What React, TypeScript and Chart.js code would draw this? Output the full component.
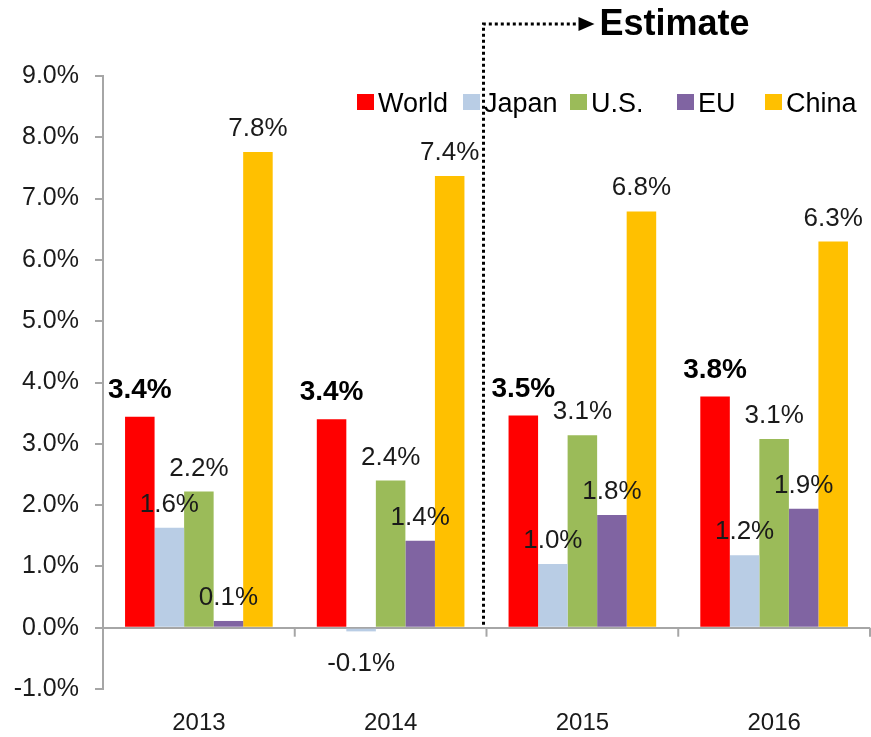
import React, { useEffect, useRef } from 'react';
import { Chart, registerables } from 'chart.js';

Chart.register(...registerables);

const categories = ['2013', '2014', '2015', '2016'];
const seriesNames = ['World', 'Japan', 'U.S.', 'EU', 'China'];
const worldValues = [3.44, 3.4, 3.46, 3.77];
const japanValues = [1.63, -0.06, 1.04, 1.18];
const usValues = [2.22, 2.4, 3.14, 3.08];
const euValues = [0.11, 1.42, 1.84, 1.94];
const chinaValues = [7.76, 7.37, 6.79, 6.3];
const seriesColors = ['#FF0000', '#B9CDE5', '#9BBB59', '#8064A2', '#FFC000'];
const yTickValues = [-1, 0, 1, 2, 3, 4, 5, 6, 7, 8, 9];
const estimateLabel = 'Estimate';
const estimateStartIndex = 2;

const FONT = '"Liberation Sans", Arial, sans-serif';
const AXIS_GRAY = '#a6a6a6';

const seriesValues = [worldValues, japanValues, usValues, euValues, chinaValues];

const fmt = (v: number) => v.toFixed(1) + '%';

const overlayPlugin = {
  id: 'overlay',
  afterDatasetsDraw(chart: any) {
    const ctx = chart.ctx;
    const xs = chart.scales.x;
    const ys = chart.scales.y;
    const area = chart.chartArea;
    const y0 = ys.getPixelForValue(0);

    ctx.save();
    // category boundary tick marks on zero line
    ctx.strokeStyle = AXIS_GRAY;
    ctx.lineWidth = 2;
    for (let i = 0; i <= categories.length; i++) {
      const x = xs.getPixelForValue(i - 0.5);
      ctx.beginPath();
      ctx.moveTo(x, y0);
      ctx.lineTo(x, y0 + 9);
      ctx.stroke();
    }

    // data labels
    ctx.textAlign = 'center';
    ctx.textBaseline = 'alphabetic';
    chart.data.datasets.forEach((ds: any, di: number) => {
      const meta = chart.getDatasetMeta(di);
      meta.data.forEach((el: any, i: number) => {
        const v = ds.data[i] as number;
        const bold = di === 0;
        ctx.font = (bold ? 'bold 28px ' : '26px ') + FONT;
        ctx.fillStyle = bold ? '#000' : '#1a1a1a';
        const y = v >= 0 ? el.y - (bold ? 19 : 16) : el.y + 40;
        ctx.fillText(fmt(v), el.x, y);
      });
    });

    // legend
    const offsets = [0, 106, 213, 320, 408];
    const lx0 = area.left + 254;
    ctx.textAlign = 'left';
    ctx.font = '27px ' + FONT;
    seriesNames.forEach((name, i) => {
      const x = lx0 + offsets[i];
      ctx.fillStyle = seriesColors[i];
      ctx.fillRect(x, area.top + 18, 17, 16);
      ctx.fillStyle = '#000';
      ctx.fillText(name, x + 21, area.top + 36);
    });

    // estimate marker
    const xb = xs.getPixelForValue(estimateStartIndex - 0.5) - 3;
    const yt = area.top - 52;
    ctx.strokeStyle = '#000';
    ctx.lineWidth = 3;
    ctx.setLineDash([3, 3]);
    ctx.beginPath();
    ctx.moveTo(xb, y0 - 3);
    ctx.lineTo(xb, yt);
    ctx.lineTo(xb + 95, yt);
    ctx.stroke();
    ctx.setLineDash([]);
    ctx.fillStyle = '#000';
    ctx.beginPath();
    ctx.moveTo(xb + 95, yt - 7);
    ctx.lineTo(xb + 111, yt);
    ctx.lineTo(xb + 95, yt + 7);
    ctx.closePath();
    ctx.fill();
    ctx.font = 'bold 36px ' + FONT;
    ctx.textAlign = 'left';
    ctx.fillText(estimateLabel, xb + 116, yt + 11);
    ctx.restore();
  },
};

export default function App() {
  const ref = useRef<HTMLCanvasElement | null>(null);

  useEffect(() => {
    if (!ref.current) return;
    const chart = new Chart(ref.current, {
      type: 'bar',
      data: {
        labels: categories,
        datasets: seriesNames.map((name, i) => ({
          label: name,
          data: seriesValues[i],
          backgroundColor: seriesColors[i],
          borderWidth: 0,
          categoryPercentage: 0.77,
          barPercentage: 1.0,
        })),
      },
      options: {
        responsive: true,
        maintainAspectRatio: false,
        animation: false,
        layout: { padding: { top: 76, right: 1, left: 0, bottom: 0 } },
        plugins: {
          legend: { display: false },
          tooltip: { enabled: false },
        },
        scales: {
          x: {
            offset: true,
            grid: { display: false, drawTicks: false },
            border: { display: false },
            ticks: { font: { family: FONT, size: 24 }, color: '#1a1a1a', padding: 20 },
            afterFit: (s: any) => {
              s.height = 48;
            },
          },
          y: {
            min: -1,
            max: 9,
            afterBuildTicks: (s: any) => {
              s.ticks = yTickValues.map((v) => ({ value: v }));
            },
            ticks: {
              callback: (v: any) => fmt(Number(v)),
              font: { family: FONT, size: 25 },
              color: '#1a1a1a',
              padding: 16,
            },
            grid: {
              color: (c: any) => (c.tick && c.tick.value === 0 ? AXIS_GRAY : 'rgba(0,0,0,0)'),
              tickColor: AXIS_GRAY,
              lineWidth: 2,
              tickLength: 8,
              drawOnChartArea: true,
            },
            border: { color: AXIS_GRAY, width: 2 },
            afterFit: (s: any) => {
              s.width = 103;
            },
          },
        },
      },
      plugins: [overlayPlugin],
    });
    return () => chart.destroy();
  }, []);

  return (
    <div style={{ position: 'absolute', left: 0, top: 0, width: 871, height: 737, background: '#fff' }}>
      <canvas ref={ref} />
    </div>
  );
}
